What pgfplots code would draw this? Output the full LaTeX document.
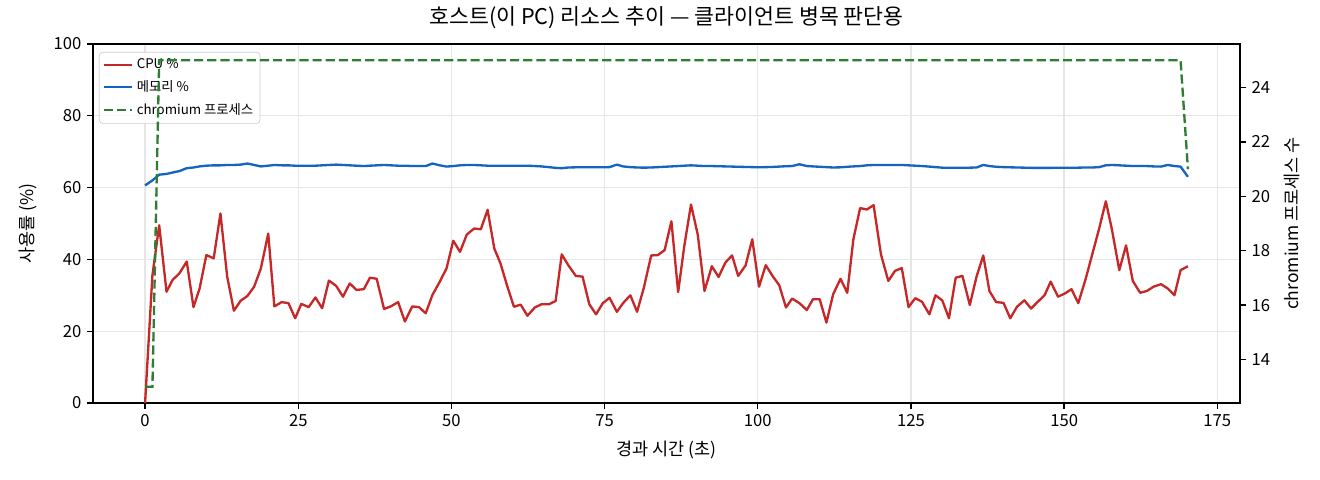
\documentclass[border=0pt]{standalone}
\usepackage{fontspec}
\setmainfont{Noto Sans CJK KR}
\usepackage{pgfplots}
\usepackage{pgfplotstable}
\pgfplotsset{compat=1.18}

\definecolor{cpured}{HTML}{C62828}
\definecolor{memblue}{HTML}{1565C0}
\definecolor{procgreen}{HTML}{2E7D32}
\definecolor{gridgray}{HTML}{E6E6E6}

% t = 경과 시간(초), cpu/mem = %, proc = chromium 프로세스 수
\pgfplotstableread{
t cpu mem proc
0.0 0.0 60.6 13
1.2 35.6 62.0 13
2.3 49.5 63.6 25
3.5 31.0 63.8 25
4.5 34.3 64.2 25
5.6 36.1 64.6 25
6.8 39.4 65.4 25
7.9 26.7 65.6 25
8.9 31.9 65.9 25
10.0 41.2 66.1 25
11.2 40.3 66.2 25
12.3 52.8 66.2 25
13.4 35.2 66.3 25
14.5 25.7 66.3 25
15.6 28.5 66.4 25
16.7 29.8 66.7 25
17.8 32.4 66.3 25
18.9 37.5 65.9 25
20.1 47.2 66.1 25
21.1 26.9 66.3 25
22.3 28.1 66.2 25
23.4 27.8 66.2 25
24.5 23.6 66.1 25
25.5 27.6 66.1 25
26.7 26.7 66.1 25
27.8 29.4 66.1 25
28.9 26.4 66.2 25
30.0 34.1 66.3 25
31.2 32.6 66.4 25
32.3 29.6 66.3 25
33.4 33.3 66.2 25
34.5 31.5 66.1 25
35.7 31.7 66.0 25
36.7 34.9 66.1 25
37.8 34.6 66.2 25
39.0 26.2 66.3 25
40.1 26.9 66.2 25
41.3 28.1 66.1 25
42.4 22.7 66.1 25
43.6 26.9 66.0 25
44.7 26.7 66.0 25
45.8 25.0 66.0 25
46.9 30.1 66.7 25
48.1 33.8 66.2 25
49.2 37.5 65.85 25
50.3 45.2 66.0 25
51.4 42.1 66.2 25
52.5 46.9 66.3 25
53.7 48.6 66.3 25
54.8 48.4 66.2 25
55.9 53.8 66.1 25
57.0 43.0 66.1 25
58.0 38.9 66.1 25
59.1 32.6 66.1 25
60.2 26.8 66.1 25
61.3 27.4 66.1 25
62.4 24.3 66.1 25
63.6 26.6 66.0 25
64.7 27.5 65.9 25
65.9 27.5 65.7 25
67.0 28.4 65.5 25
68.0 41.4 65.4 25
69.1 38.3 65.6 25
70.3 35.4 65.65 25
71.4 35.2 65.65 25
72.5 27.5 65.65 25
73.6 24.7 65.65 25
74.7 27.8 65.65 25
75.8 29.3 65.7 25
77.0 25.4 66.4 25
78.0 27.8 65.9 25
79.2 30.0 65.7 25
80.3 25.4 65.6 25
81.4 32.1 65.55 25
82.6 41.1 65.6 25
83.7 41.2 65.7 25
84.8 42.6 65.8 25
85.9 50.6 65.9 25
87.0 30.9 66.0 25
88.0 43.7 66.1 25
89.1 55.3 66.2 25
90.2 46.9 66.1 25
91.3 31.2 66.0 25
92.5 38.1 66.0 25
93.6 35.1 65.95 25
94.7 39.1 65.9 25
95.8 41.1 65.85 25
96.8 35.4 65.8 25
98.0 38.3 65.75 25
99.1 45.6 65.7 25
100.2 32.4 65.65 25
101.3 38.4 65.7 25
102.4 35.4 65.75 25
103.5 32.8 65.85 25
104.6 26.6 65.95 25
105.6 29.1 66.0 25
106.8 27.8 66.5 25
108.0 25.9 66.0 25
109.0 28.9 65.9 25
110.1 28.9 65.8 25
111.2 22.4 65.7 25
112.3 30.3 65.6 25
113.5 34.6 65.65 25
114.6 30.7 65.8 25
115.6 45.6 65.9 25
116.7 54.3 66.0 25
117.8 53.9 66.2 25
118.9 55.1 66.3 25
120.1 41.4 66.3 25
121.3 34.0 66.3 25
122.4 36.8 66.3 25
123.5 37.6 66.3 25
124.6 26.7 66.2 25
125.7 29.2 66.1 25
126.8 28.2 66.0 25
128.0 24.7 65.85 25
129.0 30.0 65.7 25
130.1 28.6 65.55 25
131.2 23.6 65.55 25
132.3 34.9 65.55 25
133.4 35.4 65.55 25
134.6 27.3 65.55 25
135.7 35.2 65.6 25
136.8 41.1 66.3 25
137.8 31.2 66.0 25
138.9 28.1 65.8 25
140.1 27.9 65.7 25
141.2 23.6 65.65 25
142.3 26.8 65.6 25
143.5 28.6 65.55 25
144.6 26.3 65.5 25
145.7 28.2 65.5 25
146.8 30.0 65.5 25
147.8 33.8 65.5 25
149.0 29.6 65.55 25
150.1 30.5 65.55 25
151.2 31.7 65.55 25
152.3 27.8 65.55 25
153.5 34.5 65.6 25
154.6 41.5 65.6 25
155.7 48.5 65.7 25
156.8 56.2 66.2 25
157.8 48.3 66.3 25
159.0 37.0 66.2 25
160.1 43.9 66.1 25
161.2 34.0 66.0 25
162.4 30.7 66.0 25
163.5 31.2 66.0 25
164.6 32.4 65.9 25
165.8 33.1 65.85 25
166.9 31.9 66.3 25
168.0 30.0 66.0 25
169.0 37.0 65.85 25
170.2 38.1 63.0 21
}\hostdata

\pgfplotsset{
  hoststyle/.style={
    scale only axis,
    width=688.2pt, height=215.4pt,
    at={(0pt,0pt)}, anchor=south west,
    xmin=-8.5, xmax=178.7,
    axis line style={line width=0.8pt},
    every tick/.style={line width=0.8pt, black},
    major tick length=3.5pt,
    tick align=outside,
    tick label style={font=\fontsize{10}{12}\selectfont},
    label style={font=\fontsize{10.5}{12.5}\selectfont},
    /pgf/number format/assume math mode=true,
  },
}

\begin{document}
\begin{tikzpicture}
\path (-55.8pt,-46.2pt) rectangle (736.2pt,241.8pt);

\begin{axis}[
  hoststyle,
  ymin=0, ymax=100,
  xtick={0,25,...,175},
  ytick={0,20,...,100},
  xtick pos=bottom, ytick pos=left,
  grid=major,
  major grid style={line width=0.8pt, gridgray},
  title={호스트(이 PC) 리소스 추이 — 클라이언트 병목 판단용},
  title style={at={(axis description cs:0.5,1.0446)}, anchor=center,
    font=\fontsize{13}{15}\selectfont},
  xlabel={경과 시간 (초)},
  xlabel style={at={(axis description cs:0.5,-0.131)}, anchor=center},
  ylabel={사용률 (\%)},
  ylabel style={at={(axis description cs:-0.0567,0.5)}, anchor=center},
  legend cell align=left,
  legend style={at={(axis description cs:0.0052,0.978)}, anchor=north west,
    font=\fontsize{8}{9.6}\selectfont, draw=black!20, rounded corners=2pt,
    fill=white, fill opacity=0.8, text opacity=1, draw opacity=1,
    inner sep=2pt, row sep=1.5pt},
]
\addplot[cpured, line width=1.4pt, line join=round] table[x=t, y=cpu] {\hostdata};
\addlegendentry{CPU \%}
\addplot[memblue, line width=1.4pt, line join=round] table[x=t, y=mem] {\hostdata};
\addlegendentry{메모리 \%}
\addlegendimage{procgreen, line width=1.4pt, dash pattern=on 5.5pt off 2.4pt}
\addlegendentry{chromium 프로세스}
\end{axis}

\begin{axis}[
  hoststyle,
  axis x line=none,
  axis y line*=right,
  ymin=12.4, ymax=25.6,
  ytick={14,16,...,24},
  ylabel={chromium 프로세스 수},
  ylabel style={at={(axis description cs:1.045,0.5)}, anchor=center},
]
\addplot[procgreen, line width=1.4pt, dash pattern=on 5.5pt off 2.4pt] table[x=t, y=proc] {\hostdata};
\end{axis}
\end{tikzpicture}
\end{document}
